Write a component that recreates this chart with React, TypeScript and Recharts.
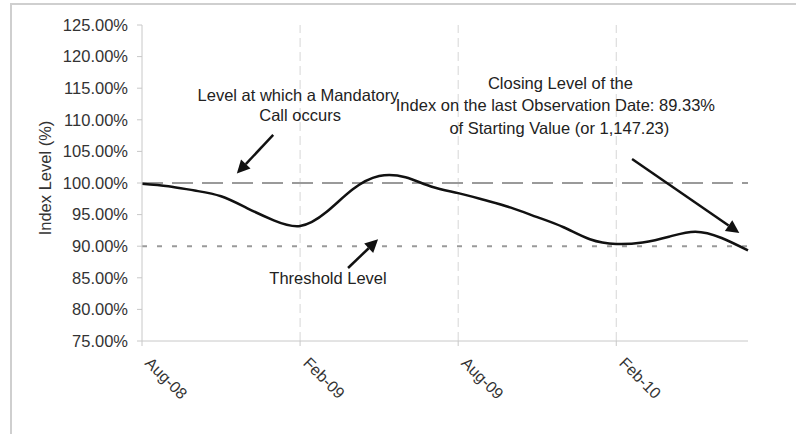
import React from 'react';
import { LineChart, Line, XAxis, YAxis, ReferenceLine, ReferenceDot } from 'recharts';

// months since Aug-08
const months = [0, 1, 2, 3, 4, 5, 6, 7, 8, 9, 10, 11, 12, 13, 14, 15, 16, 17, 18, 19, 20, 21, 22, 23];
const indexLevel = [99.9, 99.5, 98.8, 97.9, 96.0, 94.1, 93.2, 95.4, 99.0, 101.1, 100.9, 99.4, 98.4, 97.3, 96.1, 94.6, 93.0, 91.1, 90.35, 90.6, 91.5, 92.3, 91.3, 89.33];

const tickMonths = [0, 6, 12, 18];
const tickLabels = ['Aug-08', 'Feb-09', 'Aug-09', 'Feb-10'];
const gridMonths = [6, 12, 18];
const yTicks = [75, 80, 85, 90, 95, 100, 105, 110, 115, 120, 125];

const mandatoryCallLevel = 100;
const thresholdLevel = 90;

// annotation text, placed in data units (month, %)
const notes = [
  { m: 5.92, v: 113.9, text: 'Level at which a Mandatory' },
  { m: 6.0, v: 110.8, text: 'Call occurs' },
  { m: 15.88, v: 115.8, text: 'Closing Level of the' },
  { m: 15.69, v: 112.3, text: 'Index on the last Observation Date: 89.33%' },
  { m: 15.84, v: 108.7, text: 'of Starting Value (or 1,147.23)' },
  { m: 7.06, v: 85.0, text: 'Threshold Level' },
];

// arrows: from (m1, v1) to tip (m2, v2)
const arrows = [
  { m1: 4.98, v1: 107.6, m2: 3.6, v2: 101.5 },
  { m1: 7.82, v1: 86.55, m2: 8.96, v2: 91.1 },
  { m1: 18.6, v1: 103.8, m2: 22.67, v2: 92.1 },
];

const data = months.map((m, i) => ({ m, level: indexLevel[i] }));

const FONT = '"Liberation Sans", Arial, sans-serif';

const ArrowShape = (props: any) => {
  const { x1, y1, x2, y2 } = props;
  const dx = x2 - x1;
  const dy = y2 - y1;
  const len = Math.sqrt(dx * dx + dy * dy);
  const ux = dx / len;
  const uy = dy / len;
  const headL = 13;
  const headW = 6.5;
  const bx = x2 - ux * headL;
  const by = y2 - uy * headL;
  const pts = `${x2},${y2} ${bx - uy * headW},${by + ux * headW} ${bx + uy * headW},${by - ux * headW}`;
  return (
    <g>
      <line x1={x1} y1={y1} x2={bx} y2={by} stroke="#111" strokeWidth={2.5} />
      <polygon points={pts} fill="#111" />
    </g>
  );
};

const XTick = ({ x, y, payload }: any) => {
  const i = tickMonths.indexOf(payload.value);
  const tx = x + 6;
  const ty = y + 12;
  return (
    <text x={tx} y={ty} transform={`rotate(45 ${tx} ${ty})`} textAnchor="start" dominantBaseline="central"
      fontSize={16} fontFamily={FONT} fill="#333">
      {tickLabels[i]}
    </text>
  );
};

const YLabel = ({ viewBox }: any) => {
  const cx = 45;
  const cy = viewBox.y + viewBox.height / 2 - 5;
  return (
    <text x={cx} y={cy} transform={`rotate(-90 ${cx} ${cy})`} textAnchor="middle" dominantBaseline="central"
      fontSize={16.5} fontFamily={FONT} fill="#333">
      Index Level (%)
    </text>
  );
};

export default function App() {
  return (
    <div style={{ position: 'absolute', left: 0, top: 0, width: 796, height: 434, background: '#fff', overflow: 'hidden' }}>
      <div style={{ position: 'absolute', left: 10, top: 3, width: 800, height: 440, borderLeft: '2px solid #cfcfcf', borderTop: '2px solid #cfcfcf' }} />
      <LineChart width={796} height={434} data={data} margin={{ top: 25, right: 48, left: 0, bottom: 33 }}>
        <XAxis type="number" dataKey="m" domain={[0, 23]} ticks={tickMonths} height={60}
          stroke="#c8c8c8" tickSize={5} tick={<XTick />} interval={0} />
        <YAxis type="number" domain={[75, 125]} ticks={yTicks} width={142} interval={0}
          stroke="#c8c8c8" tickSize={5} tickMargin={9}
          tickFormatter={(v: number) => v.toFixed(2) + '%'}
          tick={{ fill: '#333', fontSize: 16.5, fontFamily: FONT }}
          label={{ content: <YLabel /> }} />
        {gridMonths.map((m) => (
          <ReferenceLine key={`grid-${m}`} x={m} stroke="#d6d6d6" strokeDasharray="9 5" />
        ))}
        <ReferenceLine y={mandatoryCallLevel} stroke="#9a9a9a" strokeWidth={2} strokeDasharray="21 9" />
        <ReferenceLine y={thresholdLevel} stroke="#9a9a9a" strokeWidth={2} strokeDasharray="5 10" />
        <Line type="natural" dataKey="level" stroke="#111" strokeWidth={2.5} dot={false} isAnimationActive={false} />
        {arrows.map((a, i) => (
          <ReferenceLine key={`arrow-${i}`} segment={[{ x: a.m1, y: a.v1 }, { x: a.m2, y: a.v2 }]} shape={ArrowShape} />
        ))}
        {notes.map((n, i) => (
          <ReferenceDot key={`note-${i}`} x={n.m} y={n.v} r={0}
            shape={(p: any) => (
              <text x={p.cx} y={p.cy} textAnchor="middle" dominantBaseline="central"
                fontSize={16.5} fontFamily={FONT} fill="#222">
                {n.text}
              </text>
            )} />
        ))}
      </LineChart>
    </div>
  );
}
